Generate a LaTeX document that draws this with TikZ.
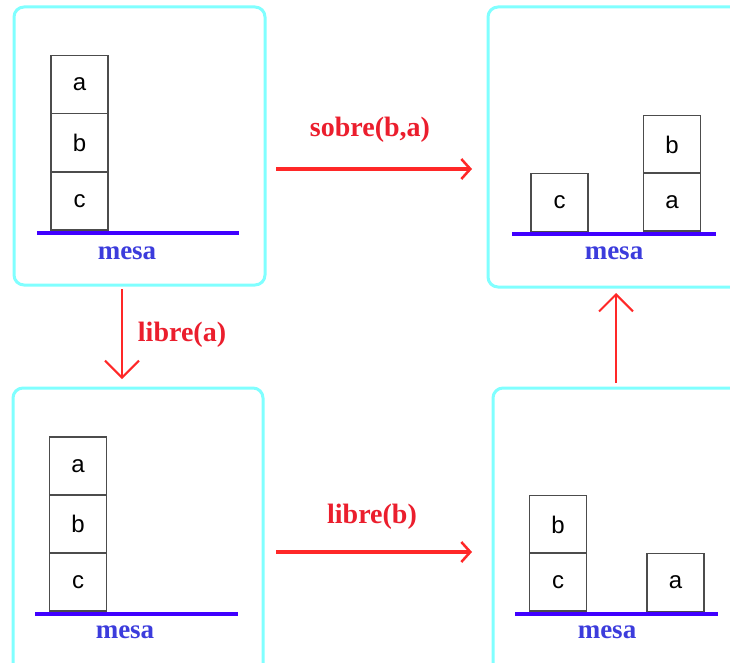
\documentclass[tikz,border=0pt]{standalone}
\usepackage{fontspec}
\setmainfont{Liberation Serif}
\newfontfamily\blockfont{Liberation Sans}
\usetikzlibrary{arrows.meta}
\definecolor{panelcyan}{RGB}{128,255,255}
\definecolor{tableblue}{RGB}{64,0,255}
\definecolor{mesablue}{RGB}{60,60,220}
\definecolor{arrowred}{RGB}{255,40,40}
\definecolor{labelred}{RGB}{235,30,45}
\begin{document}
\begin{tikzpicture}[x=1pt,y=-1pt,
  panel/.style={draw=panelcyan, line width=3pt, rounded corners=10pt, inner sep=0pt},
  block/.style={draw=black!70, line width=1.5pt, minimum width=57pt, minimum height=58pt,
    inner sep=0pt, font=\blockfont\fontsize{24}{26}\selectfont},
  tableline/.style={draw=tableblue, line width=3.5pt},
  tablelabel/.style={text=mesablue, font=\bfseries\fontsize{27}{29}\selectfont, inner sep=0pt},
  movelabel/.style={text=labelred, font=\bfseries\fontsize{28}{30}\selectfont, inner sep=0pt},
  hmove/.style={draw=arrowred, line width=3.5pt,
    -{Straight Barb[length=9pt,width=20pt,line width=2.5pt]}},
  vmove/.style={draw=arrowred, line width=2pt,
    -{Straight Barb[length=17pt,width=34pt]}},
]
\useasboundingbox (0,0) rectangle (730,663);
\clip (0,0) rectangle (730,663);

% state panels
\node[panel, minimum width=251pt, minimum height=278pt] (p1) at (139.5,146) {};
\node[panel, minimum width=257pt, minimum height=280pt] (p2) at (616.5,147) {};
\node[panel, minimum width=250pt, minimum height=302pt] (p3) at (138,539) {};
\node[panel, minimum width=252pt, minimum height=302pt] (p4) at (619,539) {};

% state 1: a on b on c
\node[block] (a1) at (79.5,84.5) {a};
\node[block] (b1) at (79.5,142.5) {b};
\node[block] (c1) at (79.5,201) {c};
\draw[tableline] (37,233) -- (239,233);
\node[tablelabel] (m1) at (127,253) {mesa};

% goal state: c alone, b on a
\node[block] (c2) at (559.5,202.5) {c};
\node[block] (b2) at (672,144.5) {b};
\node[block] (a2) at (672,202) {a};
\draw[tableline] (512,234) -- (716,234);
\node[tablelabel] (m2) at (614,253) {mesa};

% state 3: a on b on c
\node[block] (a3) at (78,466) {a};
\node[block] (b3) at (78,524) {b};
\node[block] (c3) at (78,582) {c};
\draw[tableline] (35,614) -- (238,614);
\node[tablelabel] (m3) at (125,632) {mesa};

% state 4: b on c, a alone
\node[block] (b4) at (558,524.5) {b};
\node[block] (c4) at (558,582) {c};
\node[block] (a4) at (675.5,582.5) {a};
\draw[tableline] (515,614) -- (718,614);
\node[tablelabel] (m4) at (607,632) {mesa};

% transitions
\coordinate (s1) at (276,169);
\coordinate (s2) at (472,169);
\draw[hmove] (s1) -- (s2);
\node[movelabel] (l1) at (370,130) {sobre(b,a)};

\coordinate (d1) at (122,289);
\coordinate (d2) at (122,379);
\draw[vmove] (d1) -- (d2);
\node[movelabel] (l2) at (182,335) {libre(a)};

\coordinate (r1) at (276,552);
\coordinate (r2) at (472,552);
\draw[hmove] (r1) -- (r2);
\node[movelabel] (l3) at (372,517) {libre(b)};

\coordinate (u1) at (616,383);
\coordinate (u2) at (616,293);
\draw[vmove] (u1) -- (u2);
\end{tikzpicture}
\end{document}
